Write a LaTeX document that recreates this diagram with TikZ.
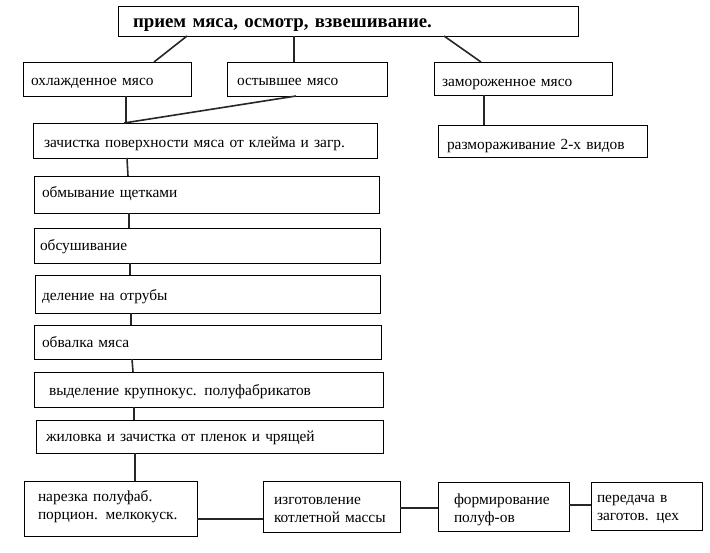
\documentclass[tikz,border=0pt]{standalone}
\usepackage{fontspec}
\setmainfont{Liberation Serif}
\begin{document}
\begin{tikzpicture}[x=1pt,y=-1pt,
  bx/.style={draw=black, line width=0.8pt, anchor=north west, align=left,
    inner ysep=0pt, outer sep=0pt, font=\fontsize{15.4}{18.5}\selectfont},
  bl/.style 2 args={text height=#1pt, text depth=#2pt},
  ln/.style={draw=black!85, line width=1.6pt}]
\useasboundingbox[fill=white] (0,0) rectangle (710,552);
% top
\node[bx, bl={21}{9}, text width=430pt, inner xsep=15pt,
  font=\fontsize{18.8}{22}\selectfont\bfseries] (top) at (118,6) {прием мяса, осмотр, взвешивание.};
% second row
\node[bx, bl={23}{11}, text width=152pt, inner xsep=8pt] (ohl) at (23,62) {охлажденное мясо};
\node[bx, bl={23}{11}, text width=140pt, inner xsep=10pt] (ost) at (227,62) {остывшее мясо};
\node[bx, bl={24}{9}, text width=162pt, inner xsep=8pt] (zam) at (434,62) {замороженное мясо};
% third row
\node[bx, bl={24}{11}, text width=322pt, inner xsep=11pt] (zach) at (33,123) {зачистка поверхности мяса от клейма и загр.};
\node[bx, bl={24}{8}, text width=191pt, inner xsep=9pt] (razm) at (438,125) {размораживание 2-х видов};
% column
\node[bx, bl={21}{16}, text width=329pt, inner xsep=8pt] (obmyv) at (34,176) {обмывание щетками};
\node[bx, bl={22}{13}, text width=334pt, inner xsep=6pt] (obsush) at (34,228) {обсушивание};
\node[bx, bl={25}{13}, text width=331pt, inner xsep=7pt] (delen) at (35,275) {деление на отрубы};
\node[bx, bl={22}{12}, text width=331pt, inner xsep=8pt] (obval) at (34,325) {обвалка мяса};
\node[bx, bl={23}{12}, text width=319pt, inner xsep=15pt] (vydel) at (34,372) {выделение крупнокус. полуфабрикатов};
\node[bx, bl={21}{12}, text width=327pt, inner xsep=10pt] (zhil) at (36,420) {жиловка и зачистка от пленок и чрящей};
% bottom row
\node[bx, bl={20}{35}, text width=145pt, inner xsep=14pt] (narez) at (24,481) {нарезка полуфаб.\\порцион. мелкокуск.};
\node[bx, bl={23}{28}, text width=115pt, inner xsep=11pt] (izgot) at (263,481) {изготовление\\котлетной массы};
\node[bx, bl={22}{27}, text width=99pt, inner xsep=16pt] (form) at (438,482) {формирование\\полуф-ов};
\node[bx, bl={20}{28}, text width=99pt, inner xsep=6pt] (pered) at (591,482) {передача в\\заготов. цех};
% connectors
\draw[ln] ([xshift=69pt]top.south west) -- ([xshift=131pt]ohl.north west);
\draw[ln] ([xshift=176pt]top.south west) -- ([xshift=67pt]ost.north west);
\draw[ln] ([xshift=326pt]top.south west) -- ([xshift=47pt]zam.north west);
\draw[ln] ([xshift=103pt]ohl.south west) -- ([xshift=93pt]zach.north west);
\draw[ln] ([xshift=69pt]ost.south west) -- ([xshift=91pt]zach.north west);
\draw[ln] ([xshift=50pt]zam.south west) -- ([xshift=46pt]razm.north west);
\draw[ln] ([xshift=94pt]zach.south west) -- ([xshift=94pt]obmyv.north west);
\draw[ln] ([xshift=95pt]obmyv.south west) -- ([xshift=95pt]obsush.north west);
\draw[ln] ([xshift=96pt]obsush.south west) -- ([xshift=95pt]delen.north west);
\draw[ln] ([xshift=96pt]delen.south west) -- ([xshift=97pt]obval.north west);
\draw[ln] ([xshift=98pt]obval.south west) -- ([xshift=99pt]vydel.north west);
\draw[ln] ([xshift=100pt]vydel.south west) -- ([xshift=98pt]zhil.north west);
\draw[ln] ([xshift=99pt]zhil.south west) -- ([xshift=111pt]narez.north west);
\draw[ln] ([yshift=-38pt]narez.north east) -- ([yshift=-38pt]izgot.north west);
\draw[ln] ([yshift=-27pt]izgot.north east) -- ([yshift=-26pt]form.north west);
\draw[ln] ([yshift=-23pt]form.north east) -- ([yshift=-23pt]pered.north west);
\end{tikzpicture}
\end{document}
